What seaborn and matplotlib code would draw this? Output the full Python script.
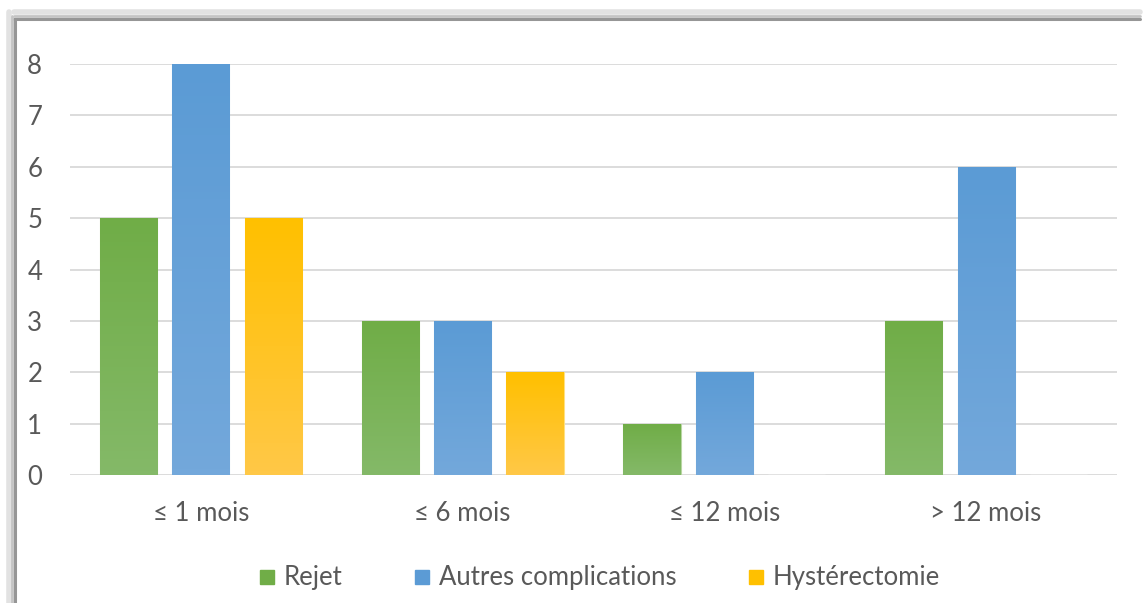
import numpy as np
import pandas as pd
import matplotlib
matplotlib.use("Agg")
import matplotlib.pyplot as plt
from matplotlib.lines import Line2D
from matplotlib.colors import to_rgb
import seaborn as sns

# data
categories = ["\u2264 1 mois", "\u2264 6 mois", "\u2264 12 mois", "> 12 mois"]
series = ["Rejet", "Autres complications", "Hyst\u00e9rectomie"]
rejet = [5, 3, 1, 3]
autres = [8, 3, 2, 6]
hysterectomie = [5, 2, 0, 0]

# top / bottom colours of the Excel-like gradient fill
TOP = {"Rejet": "#70AD47", "Autres complications": "#5B9BD5", "Hyst\u00e9rectomie": "#FFC000"}
BOTTOM = {"Rejet": "#84B968", "Autres complications": "#73A8DB", "Hyst\u00e9rectomie": "#FFC847"}

df = pd.DataFrame({
    "periode": categories * 3,
    "serie": [s for s in series for _ in categories],
    "valeur": rejet + autres + hysterectomie,
})

sns.set_theme(style="white")
plt.rcParams["font.family"] = ["Lato", "DejaVu Sans"]

W, H = 1147, 603
fig = plt.figure(figsize=(W / 100, H / 100), dpi=100)
ax = fig.add_axes([70 / W, 1 - 475 / H, (1117 - 70) / W, (475 - 64) / H])

sns.barplot(data=df, x="periode", y="valeur", hue="serie", order=categories,
            hue_order=series, palette=TOP, width=0.83, gap=0.21,
            ax=ax, legend=False, saturation=1)

# vertical gradient inside each bar
for patch in list(ax.patches):
    h = patch.get_height()
    if h <= 0:
        continue
    x0, w = patch.get_x(), patch.get_width()
    fc = patch.get_facecolor()[:3]
    name = min(series, key=lambda s: np.sum((np.array(to_rgb(TOP[s])) - np.array(fc)) ** 2))
    top, bot = np.array(to_rgb(TOP[name])), np.array(to_rgb(BOTTOM[name]))
    t = np.linspace(0, 1, 64)[:, None]
    grad = (top * (1 - t) + bot * t)[:, None, :]
    im = ax.imshow(grad, extent=[x0, x0 + w, 0, h], aspect="auto",
                   origin="upper", zorder=patch.get_zorder() + 0.1)
    im.set_clip_path(patch)
    patch.set_edgecolor(tuple(0.5 * top + 0.5))
    patch.set_linewidth(0.8)

ax.set_xlim(-0.5, 3.5)
ax.set_ylim(0, 8)
ax.set_yticks(range(0, 9))
ax.yaxis.grid(True, color="#D9D9D9", lw=1.3)
ax.set_axisbelow(True)
for s in ax.spines.values():
    s.set_visible(False)
ax.set_xlabel("")
ax.set_ylabel("")
ax.tick_params(axis="x", length=0, pad=19, labelsize=18.5, labelcolor="#595959")
ax.tick_params(axis="y", length=0, pad=20, labelsize=18.5, labelcolor="#595959")

handles = [Line2D([], [], ls="", marker="s", markersize=10.5, color=TOP[s]) for s in series]
fig.legend(handles, series, loc="center", bbox_to_anchor=(600 / W, 1 - 578 / H),
           ncol=3, frameon=False, fontsize=18.5, labelcolor="#595959",
           handlelength=0.6, handletextpad=0.35, columnspacing=2.8)

# frame shadow of the embedded chart
fig.add_artist(Line2D([14 / W, 1140 / W], [1 - 12 / H, 1 - 12 / H], color="#E2E2E2", lw=4))
fig.add_artist(Line2D([14 / W, 1140 / W], [1 - 16 / H, 1 - 16 / H], color="#C4C4C4", lw=2))
fig.add_artist(Line2D([14 / W, 1140 / W], [1 - 19 / H, 1 - 19 / H], color="#969696", lw=2.2))
fig.add_artist(Line2D([9 / W, 9 / W], [0, 1 - 12 / H], color="#E2E2E2", lw=4))
fig.add_artist(Line2D([12 / W, 12 / W], [0, 1 - 16 / H], color="#C4C4C4", lw=2))
fig.add_artist(Line2D([15 / W, 15 / W], [0, 1 - 19 / H], color="#969696", lw=2.2))

fig.savefig("out.png", dpi=100)
